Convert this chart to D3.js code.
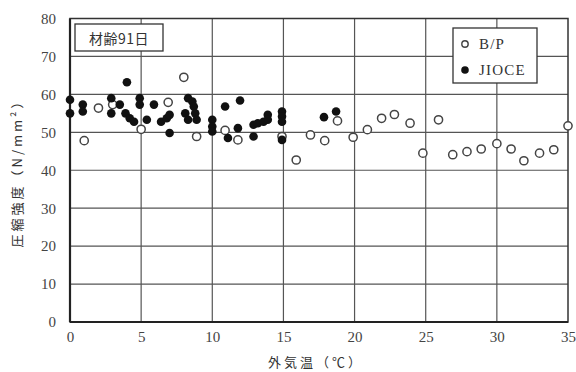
<!DOCTYPE html>
<html>
<head>
<meta charset="utf-8">
<script src="https://cdn.jsdelivr.net/npm/d3@7"></script>
<style>
  body { margin: 0; background: #fff; }
  .tick text { font-family: "Liberation Serif", serif; font-size: 15px; fill: #444; }
  .jp { font-family: "Noto Sans CJK JP", sans-serif; fill: #333; }
</style>
</head>
<body>
<div id="chart"></div>
<script>
// outdoor temperature (deg C) vs compressive strength (N/mm2), age 91 days
const bpData = [
  [1, 47.8], [2, 56.4], [3, 57.3], [5, 50.8], [6.9, 57.9], [8, 64.5], [8.9, 48.9],
  [10.9, 50.5], [11.8, 48], [14.9, 48.9], [15.9, 42.7], [16.9, 49.3], [17.9, 47.8],
  [18.8, 53], [19.9, 48.7], [20.9, 50.7], [21.9, 53.7], [22.8, 54.7], [23.9, 52.4],
  [24.8, 44.5], [25.9, 53.3], [26.9, 44.1], [27.9, 44.9], [28.9, 45.6], [30, 47],
  [31, 45.6], [31.9, 42.5], [33, 44.5], [34, 45.4], [35, 51.7]
];
const jioceData = [
  [0, 58.6], [0, 55], [0.9, 57.3], [0.9, 55.5], [2.9, 59], [2.9, 55], [3.5, 57.3],
  [3.9, 55], [4, 63.2], [4.2, 53.7], [4.5, 52.8], [4.9, 59], [4.9, 57.3], [5.4, 53.3],
  [5.9, 57.3], [6.4, 52.8], [6.8, 53.7], [7, 54.6], [7, 49.8], [8.3, 59], [8.6, 58.1],
  [8.7, 56.8], [8.8, 55], [8.9, 53.3], [8.1, 55], [8.3, 53.3], [10, 53.3], [10, 51.5],
  [10, 50.2], [10.9, 56.8], [11.1, 48.5], [11.95, 58.4], [11.8, 51.1], [12.9, 52],
  [12.9, 48.9], [13.2, 52.4], [13.6, 52.8], [13.9, 54.6], [13.9, 53.3], [14.9, 55.5],
  [14.9, 54.2], [14.9, 52.8], [14.9, 48], [17.85, 54], [18.7, 55.5]
];
const xTicks = [0, 5, 10, 15, 20, 25, 30, 35];
const yTicks = [0, 10, 20, 30, 40, 50, 60, 70, 80];

const width = 576, height = 372;
const margin = { left: 70, right: 8, top: 18.5, bottom: 50 };
const w = width - margin.left - margin.right;
const h = height - margin.top - margin.bottom;

const svg = d3.select('#chart').append('svg')
  .attr('width', width)
  .attr('height', height);

const g = svg.append('g')
  .attr('transform', `translate(${margin.left},${margin.top})`);

const x = d3.scaleLinear().domain([0, 35]).range([0, w]);
const y = d3.scaleLinear().domain([0, 80]).range([h, 0]);

// grid lines
g.append('g')
  .selectAll('line')
  .data(xTicks.slice(1, -1))
  .enter().append('line')
  .attr('x1', d => x(d)).attr('x2', d => x(d))
  .attr('y1', 0).attr('y2', h)
  .attr('stroke', '#555').attr('stroke-width', 1.2);

g.append('g')
  .selectAll('line')
  .data(yTicks.slice(1, -1))
  .enter().append('line')
  .attr('x1', 0).attr('x2', w)
  .attr('y1', d => y(d)).attr('y2', d => y(d))
  .attr('stroke', '#555').attr('stroke-width', 1.2);

// frame
g.append('rect')
  .attr('width', w).attr('height', h)
  .attr('fill', 'none')
  .attr('stroke', '#333').attr('stroke-width', 1.5);
g.append('line')
  .attr('x1', 0).attr('x2', 0).attr('y1', 0).attr('y2', h)
  .attr('stroke', '#222').attr('stroke-width', 2.2);
g.append('line')
  .attr('x1', 0).attr('x2', w).attr('y1', h).attr('y2', h)
  .attr('stroke', '#222').attr('stroke-width', 2.2);

// axes (labels only)
const xAxis = g.append('g')
  .attr('transform', `translate(0,${h})`)
  .call(d3.axisBottom(x).tickValues(xTicks).tickSize(0).tickPadding(9));
const yAxis = g.append('g')
  .call(d3.axisLeft(y).tickValues(yTicks).tickSize(0).tickPadding(14));
xAxis.select('.domain').remove();
yAxis.select('.domain').remove();
xAxis.selectAll('.tick text').attr('dy', '0.75em');

// points
g.append('g')
  .selectAll('circle')
  .data(bpData)
  .enter().append('circle')
  .attr('cx', d => x(d[0]))
  .attr('cy', d => y(d[1]))
  .attr('r', 4.1)
  .attr('fill', '#fff')
  .attr('stroke', '#444')
  .attr('stroke-width', 1.5);

g.append('g')
  .selectAll('circle')
  .data(jioceData)
  .enter().append('circle')
  .attr('cx', d => x(d[0]))
  .attr('cy', d => y(d[1]))
  .attr('r', 4.3)
  .attr('fill', '#111');

// age annotation box
svg.append('rect')
  .attr('x', 75).attr('y', 24).attr('width', 88).attr('height', 27)
  .attr('fill', '#fff').attr('stroke', '#333').attr('stroke-width', 1.3);
svg.append('text')
  .attr('class', 'jp')
  .attr('x', 119).attr('y', 38)
  .attr('text-anchor', 'middle')
  .attr('dominant-baseline', 'central')
  .style('font-size', '14px')
  .style('letter-spacing', '0.5px')
  .text('材齢91日');

// legend
svg.append('rect')
  .attr('x', 453).attr('y', 28).attr('width', 84).attr('height', 55)
  .attr('fill', '#fff').attr('stroke', '#333').attr('stroke-width', 1.3);
const legend = [
  { label: 'B/P', open: true, cy: 44 },
  { label: 'JIOCE', open: false, cy: 70 }
];
legend.forEach(d => {
  svg.append('circle')
    .attr('cx', 465).attr('cy', d.cy)
    .attr('r', d.open ? 3.2 : 3.8)
    .attr('fill', d.open ? '#fff' : '#111')
    .attr('stroke', d.open ? '#444' : 'none')
    .attr('stroke-width', 1.4);
  svg.append('text')
    .attr('x', 479).attr('y', d.cy)
    .attr('dominant-baseline', 'central')
    .style('font-family', '"Liberation Serif", serif')
    .style('font-size', '15px')
    .style('letter-spacing', '1.2px')
    .attr('fill', '#333')
    .text(d.label);
});

// axis titles
svg.append('text')
  .attr('class', 'jp')
  .attr('x', 316).attr('y', 361)
  .attr('text-anchor', 'middle')
  .attr('dominant-baseline', 'central')
  .style('font-size', '13px')
  .style('letter-spacing', '3px')
  .text('外気温（℃）');

svg.append('text')
  .attr('class', 'jp')
  .attr('transform', 'translate(16,170) rotate(-90)')
  .attr('text-anchor', 'middle')
  .attr('dominant-baseline', 'central')
  .style('font-size', '13px')
  .style('letter-spacing', '3px')
  .text('圧縮強度（N/mm²）');
</script>
</body>
</html>
